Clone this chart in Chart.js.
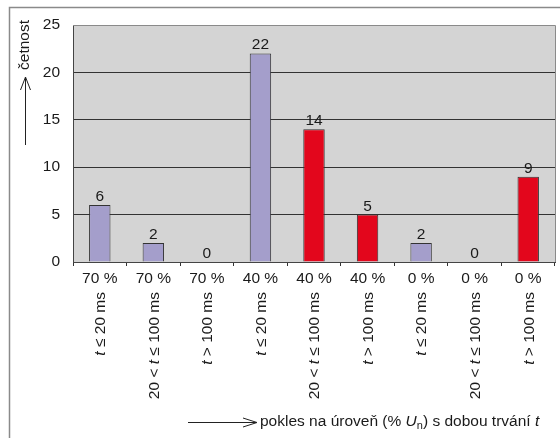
<!DOCTYPE html>
<html>
<head>
<meta charset="utf-8">
<script src="https://cdn.jsdelivr.net/npm/chart.js@4"></script>
<style>
html,body{margin:0;padding:0;background:#fff;}
#wrap{width:560px;height:438px;position:relative;}
</style>
</head>
<body>
<div id="wrap"><canvas id="c" width="560" height="438"></canvas></div>
<script>
// ---- data ----
const levelLabels = ['70 %', '70 %', '70 %', '40 %', '40 %', '40 %', '0 %', '0 %', '0 %'];
const durationLabels = ['t ≤ 20 ms', '20 < t ≤ 100 ms', 't > 100 ms', 't ≤ 20 ms', '20 < t ≤ 100 ms', 't > 100 ms', 't ≤ 20 ms', '20 < t ≤ 100 ms', 't > 100 ms'];
const counts = [6, 2, 0, 22, 14, 5, 2, 0, 9];
const yTicks = [0, 5, 10, 15, 20, 25];
const yTitle = 'četnost';
const xTitleParts = [['pokles na úroveň (% ', 'n'], ['U', 'i'], ['n', 'sub'], [') s dobou trvání ', 'n'], ['t', 'i']];

const PURPLE = '#a49ecb', RED = '#e3061c';
const FONT = '"Liberation Sans", Arial, sans-serif';
const FS = 15.5;
const TXT = '#1a1a1a';

const decorPlugin = {
  id: 'decor',
  beforeDraw(chart) {
    const ctx = chart.ctx, a = chart.chartArea;
    ctx.save();
    ctx.fillStyle = '#fff';
    ctx.fillRect(0, 0, chart.width, chart.height);
    ctx.strokeStyle = '#8a8a8a';
    ctx.lineWidth = 1.5;
    ctx.strokeRect(9.5, 7.5, 600, 500);
    ctx.fillStyle = '#d4d4d4';
    ctx.fillRect(a.left, a.top, a.right - a.left, a.bottom - a.top);
    ctx.restore();
  },
  afterDatasetsDraw(chart) {
    const ctx = chart.ctx, a = chart.chartArea;
    ctx.save();
    ctx.strokeStyle = '#8a8a8a';
    ctx.lineWidth = 1;
    ctx.beginPath();
    ctx.moveTo(a.left, a.top + 0.5); ctx.lineTo(a.right + 0.5, a.top + 0.5); ctx.lineTo(a.right + 0.5, a.bottom);
    ctx.stroke();
    // value labels
    const meta = chart.getDatasetMeta(0);
    ctx.fillStyle = TXT;
    ctx.font = FS + 'px ' + FONT;
    ctx.textAlign = 'center';
    ctx.textBaseline = 'alphabetic';
    meta.data.forEach((el, i) => {
      ctx.fillText(String(counts[i]), el.x, el.y - 4);
    });
    // rotated duration labels
    const xs = chart.scales.x;
    durationLabels.forEach((lab, i) => {
      const cx = xs.getPixelForValue(i);
      const parts = lab.split(/(\bt\b)/).filter(p => p.length);
      ctx.save();
      ctx.translate(cx + 1, 292);
      ctx.rotate(-Math.PI / 2);
      ctx.textBaseline = 'middle';
      ctx.textAlign = 'left';
      const widths = parts.map(p => {
        ctx.font = (p === 't' ? 'italic ' : '') + FS + 'px ' + FONT;
        return ctx.measureText(p).width;
      });
      const total = widths.reduce((s, w) => s + w, 0);
      let x = -total;
      parts.forEach((p, k) => {
        ctx.font = (p === 't' ? 'italic ' : '') + FS + 'px ' + FONT;
        ctx.fillStyle = TXT;
        ctx.fillText(p, x, 0);
        x += widths[k];
      });
      ctx.restore();
    });
    // y title with arrow
    ctx.strokeStyle = '#222';
    ctx.lineWidth = 1;
    ctx.beginPath();
    ctx.moveTo(25.5, 145); ctx.lineTo(25.5, 77);
    ctx.moveTo(20.5, 90); ctx.lineTo(25.5, 77); ctx.lineTo(30.5, 90);
    ctx.stroke();
    ctx.save();
    ctx.translate(25, 20);
    ctx.rotate(-Math.PI / 2);
    ctx.font = FS + 'px ' + FONT;
    ctx.fillStyle = TXT;
    ctx.textAlign = 'right';
    ctx.textBaseline = 'middle';
    ctx.fillText(yTitle, 0, 0);
    ctx.restore();
    // x title with arrow
    const ty = 422;
    ctx.beginPath();
    ctx.moveTo(188, ty + 0.5); ctx.lineTo(256, ty + 0.5);
    ctx.moveTo(243, ty - 4); ctx.lineTo(257, ty + 0.5); ctx.lineTo(243, ty + 5);
    ctx.stroke();
    let tx = 260;
    ctx.textAlign = 'left';
    ctx.textBaseline = 'middle';
    ctx.fillStyle = TXT;
    xTitleParts.forEach(([s, st]) => {
      if (st === 'sub') {
        ctx.font = '11px ' + FONT;
        ctx.fillText(s, tx, ty + 4);
      } else {
        ctx.font = (st === 'i' ? 'italic ' : '') + FS + 'px ' + FONT;
        ctx.fillText(s, tx, ty);
      }
      tx += ctx.measureText(s).width;
    });
    ctx.restore();
  }
};

new Chart(document.getElementById('c'), {
  type: 'bar',
  data: {
    labels: levelLabels,
    datasets: [{
      data: counts,
      backgroundColor: [PURPLE, PURPLE, PURPLE, PURPLE, RED, RED, PURPLE, PURPLE, RED],
      borderColor: '#333',
      borderWidth: 1,
      barPercentage: 0.4,
      categoryPercentage: 1.0
    }]
  },
  options: {
    responsive: false,
    animation: false,
    devicePixelRatio: 1,
    layout: { padding: { left: 0, top: 25, right: 5, bottom: 0 } },
    plugins: { legend: { display: false }, tooltip: { enabled: false } },
    scales: {
      x: {
        offset: true,
        grid: { offset: true, drawOnChartArea: false, drawTicks: true, tickLength: 4, color: '#333', tickColor: '#333' },
        border: { display: true, color: '#444', width: 1 },
        ticks: { color: TXT, font: { family: FONT, size: FS }, padding: 3, maxRotation: 0, autoSkip: false },
        afterFit: s => { s.height = 176; }
      },
      y: {
        min: 0, max: 25,
        afterBuildTicks: s => { s.ticks = yTicks.map(v => ({ value: v })); },
        grid: { color: ctx => (ctx.tick && (ctx.tick.value === 0 || ctx.tick.value === 25)) ? 'rgba(0,0,0,0)' : '#333', drawTicks: false, lineWidth: 1 },
        border: { display: true, color: '#444', width: 1 },
        ticks: { color: TXT, font: { family: FONT, size: FS }, padding: 13 },
        afterFit: s => { s.width = 73; }
      }
    }
  },
  plugins: [decorPlugin]
});
</script>
</body>
</html>
